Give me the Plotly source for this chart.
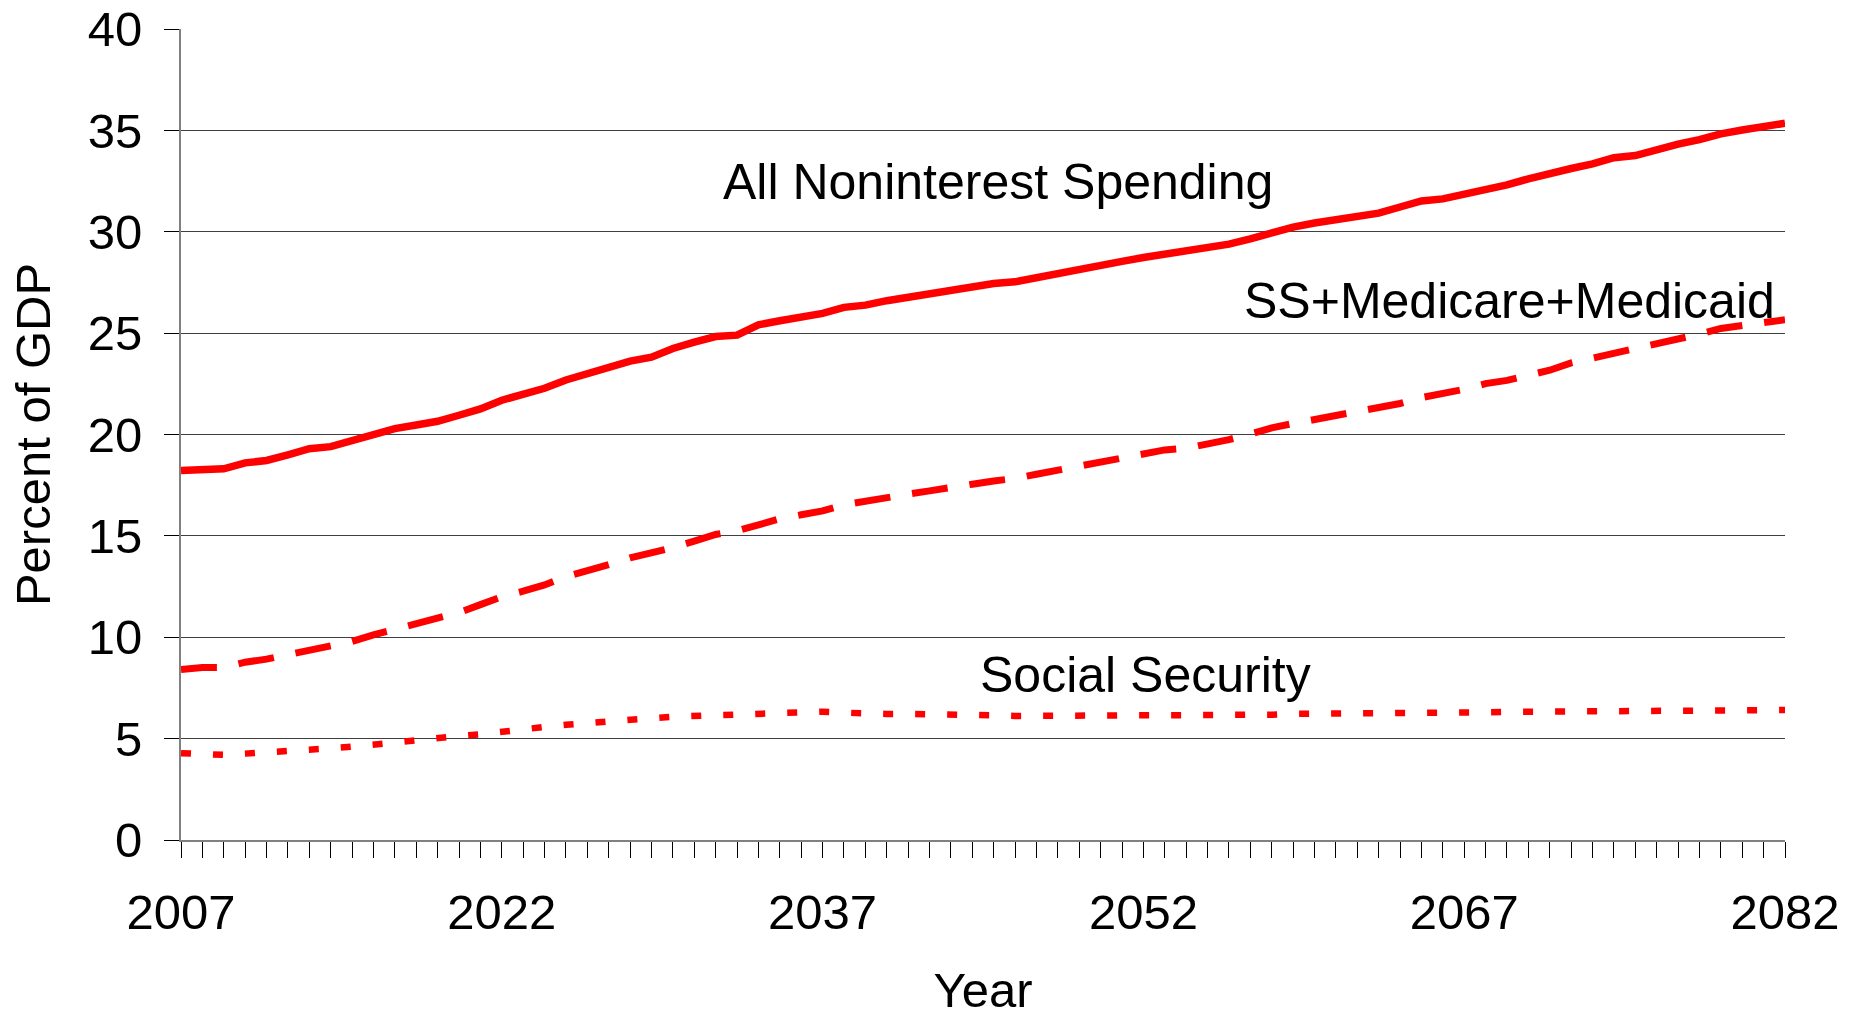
import plotly.graph_objects as go

# Projected federal spending, percent of GDP, 2007-2082
years = list(range(2007, 2083))

all_noninterest = [
    18.23, 18.31, 18.31, 18.60, 18.72, 19.00, 19.30, 19.40, 19.70, 19.99,
    20.29, 20.47, 20.65, 20.95, 21.26, 21.69, 21.99, 22.28, 22.69, 22.99,
    23.30, 23.62, 23.81, 24.24, 24.56, 24.83, 24.90, 25.41, 25.61, 25.81,
    25.97, 26.27, 26.38, 26.60, 26.78, 26.96, 27.06, 27.25, 27.45, 27.53,
    27.75, 27.94, 28.14, 28.34, 28.54, 28.73, 28.91, 29.01, 29.19, 29.39,
    29.65, 29.98, 30.23, 30.43, 30.60, 30.81, 30.92, 31.22, 31.52, 31.62,
    31.82, 32.11, 32.31, 32.61, 32.82, 33.12, 33.35, 33.65, 33.76, 34.08,
    34.32, 34.54, 34.83, 35.02, 35.18, 35.35,
]

ss_medicare_medicaid = [
    8.41, 8.51, 8.51, 8.77, 8.92, 9.12, 9.38, 9.51, 9.79, 10.12,
    10.40, 10.65, 10.93, 11.22, 11.61, 12.00, 12.27, 12.58, 12.99, 13.25,
    13.58, 13.91, 14.13, 14.42, 14.74, 15.07, 15.25, 15.54, 15.84, 16.04,
    16.23, 16.53, 16.68, 16.86, 17.06, 17.22, 17.35, 17.55, 17.71, 17.83,
    18.04, 18.24, 18.45, 18.62, 18.86, 19.06, 19.24, 19.32, 19.52, 19.75,
    20.02, 20.33, 20.54, 20.74, 20.94, 21.11, 21.32, 21.53, 21.82, 22.01,
    22.23, 22.51, 22.67, 22.92, 23.17, 23.53, 23.76, 24.04, 24.29, 24.49,
    24.70, 24.95, 25.23, 25.36, 25.50, 25.66,
]

social_security = [
    4.28, 4.23, 4.20, 4.26, 4.31, 4.37, 4.46, 4.52, 4.60, 4.72,
    4.82, 4.92, 5.01, 5.13, 5.21, 5.35, 5.44, 5.58, 5.68, 5.78,
    5.88, 5.96, 6.01, 6.08, 6.12, 6.15, 6.20, 6.26, 6.31, 6.33,
    6.33, 6.28, 6.22, 6.22, 6.22, 6.22, 6.22, 6.20, 6.15, 6.12,
    6.12, 6.12, 6.12, 6.12, 6.12, 6.12, 6.12, 6.12, 6.12, 6.12,
    6.12, 6.18, 6.22, 6.22, 6.22, 6.22, 6.22, 6.22, 6.22, 6.22,
    6.22, 6.30, 6.32, 6.33, 6.33, 6.38, 6.40, 6.40, 6.37, 6.40,
    6.41, 6.41, 6.41, 6.41, 6.41, 6.41,
]

labelled_years = [2007, 2022, 2037, 2052, 2067, 2082]
x_tick_text = [str(y) if y in labelled_years else "" for y in years]

y_ticks = [0, 5, 10, 15, 20, 25, 30, 35, 40]

series_labels = ["All Noninterest Spending", "SS+Medicare+Medicaid", "Social Security"]
label_x = [2045.2, 2069.1, 2052.1]
label_y = [32.45, 26.58, 8.14]

FONT = "Liberation Sans, Arial, sans-serif"
RED = "#FF0000"

fig = go.Figure()
fig.add_trace(go.Scatter(x=years, y=all_noninterest, mode="lines",
                         line=dict(color=RED, width=7.5), showlegend=False))
fig.add_trace(go.Scatter(x=years, y=ss_medicare_medicaid, mode="lines",
                         line=dict(color=RED, width=7, dash="36px,22px"), showlegend=False))
fig.add_trace(go.Scatter(x=years, y=social_security, mode="lines",
                         line=dict(color=RED, width=6.5, dash="10px,22px"), showlegend=False))

for text, x, y in zip(series_labels, label_x, label_y):
    fig.add_annotation(x=x, y=y, xref="x", yref="y", text=text, showarrow=False,
                       font=dict(family=FONT, size=50, color="black"),
                       xanchor="center", yanchor="middle")

fig.update_layout(
    width=1866, height=1017,
    margin=dict(l=181, r=81, t=29, b=177, autoexpand=False),
    paper_bgcolor="white", plot_bgcolor="white",
    font=dict(family=FONT, color="black"),
)

fig.update_xaxes(
    range=[2007, 2082], automargin=False,
    tickmode="array", tickvals=years, ticktext=x_tick_text,
    ticks="outside", ticklen=16, tickwidth=1, tickcolor="black",
    tickfont=dict(family=FONT, size=49, color="black"),
    ticklabelstandoff=12,
    showgrid=False, zeroline=False,
    showline=True, linecolor="#808080", linewidth=2,
    title=dict(text="Year", font=dict(family=FONT, size=49, color="black"), standoff=64),
)

fig.update_yaxes(
    range=[0, 40], automargin=False,
    tickmode="array", tickvals=y_ticks, ticktext=[str(v) for v in y_ticks],
    ticks="outside", ticklen=15, tickwidth=1, tickcolor="black",
    tickfont=dict(family=FONT, size=49, color="black"),
    ticklabelstandoff=12,
    showgrid=True, gridcolor="#404040", gridwidth=1,
    zeroline=False,
    showline=True, linecolor="#808080", linewidth=2,
    title=dict(text="Percent of GDP", font=dict(family=FONT, size=49, color="black"), standoff=22),
)

fig.write_html("out.html")
